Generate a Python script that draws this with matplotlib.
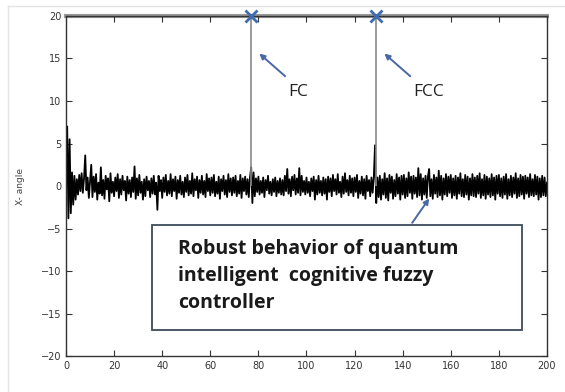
import numpy as np
import matplotlib
matplotlib.use("Agg")
from matplotlib import pyplot as plt
from matplotlib.patches import Rectangle

# angle signal, sampled every 0.5 s from 0 to 200
angle = [
    0.5, 7.0, -3.8, 5.5, -3.2, 1.6, -2.2, 1.2, -1.6, 0.8, -1.0, 1.3, -0.6, 1.5, -0.8, 0.9, 3.6, -0.5, 1.0, -1.4,
    0.6, 2.5, -1.3, 1.1, -0.7, 1.4, -1.6, 0.4, -0.9, 2.2, -1.1, 0.7, -1.5, 1.2, -0.4, 0.9, -1.8, 1.5, -0.8, 0.5,
    -1.2, 1.0, -0.6, 1.4, -1.4, 0.8, -1.0, 1.2, -0.5, 0.6, -1.7, 1.1, -0.9, 0.7, -1.3, 1.0, -0.7, 2.3, -1.5, 0.9,
    -1.1, 1.3, -0.8, 0.5, -1.6, 0.8, -1.2, 1.1, -0.5, 0.6, -1.3, 0.9, -0.9, 1.2, -1.0, 0.4, -2.8, 1.2, -0.6, 0.7,
    -1.4, 1.0, -0.7, 1.3, -1.1, 0.6, -0.9, 1.4, -1.2, 0.8, -0.6, 1.1, -1.5, 0.7, -0.8, 1.2, -1.0, 0.5, -1.3, 1.0,
    -0.7, 1.3, -1.1, 0.6, -0.9, 1.5, -1.2, 0.8, -0.5, 1.1, -1.4, 0.7, -0.8, 1.2, -1.0, 0.6, -1.3, 1.4, -0.6, 0.9,
    -1.1, 1.0, -0.8, 1.3, -1.2, 0.5, -0.9, 1.1, -1.5, 0.8, -0.6, 1.2, -1.0, 0.7, -1.3, 1.4, -0.7, 0.9, -1.1, 1.0,
    -0.8, 1.2, -1.2, 0.6, -0.9, 1.3, -1.4, 0.9, -0.6, 1.1, -1.0, 0.8, -1.3, 1.0, 2.2, -2.0, 1.6, -1.2, 0.9, -0.7,
    1.1, -1.0, 0.6, -0.8, 1.0, -1.3, 0.7, -0.5, 1.2, -0.9, 0.5, -1.1, 0.8, -0.7, 1.0, -1.2, 0.6, -0.8, 0.9, -1.0,
    0.7, -1.1, 1.2, -0.6, 2.0, -0.9, 0.8, -1.2, 1.1, -0.5, 1.3, -1.0, 0.9, -0.8, 2.1, -1.1, 1.2, -0.7, 0.6, -1.0,
    1.0, -0.8, 0.5, -1.2, 0.9, -0.6, 1.1, -1.6, 0.7, -1.0, 1.2, -0.8, 0.6, -1.1, 1.0, -0.9, 0.8, -1.6, 1.1, -0.7,
    0.9, -1.2, 1.3, -0.6, 0.8, -1.0, 1.4, -0.8, 0.5, -1.3, 1.1, -0.9, 1.5, -0.7, 0.7, -1.1, 1.2, -0.8, 0.9, -1.2,
    1.0, -0.7, 1.3, -1.4, 0.6, -0.9, 1.1, -1.1, 0.8, -1.5, 1.2, -0.6, 0.7, -1.2, 1.0, -0.8, 1.1, 4.8, -2.0, 1.0,
    -1.3, 1.2, -1.6, 0.8, -1.0, 1.5, -1.4, 0.9, -1.7, 1.3, -0.8, 1.1, -1.5, 0.7, -1.2, 1.4, -0.9, 1.0, -1.6, 1.2,
    -1.0, 1.3, -1.4, 0.9, -1.2, 1.6, -0.8, 1.1, -1.5, 1.2, -0.9, 1.0, -1.3, 2.1, -1.1, 1.4, -1.6, 0.9, -1.0, 1.2,
    -1.4, 1.1, 2.0, -1.2, 0.8, -1.5, 1.3, -0.9, 1.0, -1.3, 1.8, -1.1, 1.2, -1.6, 0.9, -1.0, 1.4, -1.2, 1.1, -0.8,
    1.3, -1.4, 0.9, -1.1, 1.2, -1.5, 1.0, -0.9, 1.5, -1.2, 0.8, -1.3, 1.3, -1.0, 1.1, -1.6, 0.9, -1.1, 1.4, -1.2,
    1.0, -1.3, 1.2, -0.9, 1.5, -1.4, 0.8, -1.1, 1.3, -1.5, 1.1, -1.0, 0.9, -1.3, 1.4, -1.1, 1.0, -1.6, 1.2, -0.9,
    1.3, -1.2, 0.9, -1.4, 1.1, -1.0, 1.4, -1.5, 0.8, -1.1, 1.2, -1.3, 1.0, -0.9, 1.5, -1.4, 0.9, -1.2, 1.3, -1.0,
    1.1, -1.5, 1.2, -0.9, 1.0, -1.3, 1.4, -1.1, 0.8, -1.2, 1.3, -1.0, 1.1, -1.6, 0.9, -1.3, 1.2, -1.1, 1.0, -1.2,
    0.4,
]
t = np.arange(len(angle)) * 0.5

# saturation events (gray spikes up to the limit)
event_t = [77, 129]
event_labels = ['FC', 'FCC']
limit = 20

box_lines = ['Robust behavior of quantum',
             'intelligent  cognitive fuzzy',
             'controller']

fig = plt.figure(figsize=(5.65, 3.92), dpi=100)
ax = fig.add_axes([0.1168, 0.0918, 0.8513, 0.8674])

# faint screenshot frame
fig.add_artist(plt.Line2D([0.014, 0.014], [0, 0.985], color='#e4e4e4', lw=1))
fig.add_artist(plt.Line2D([0.014, 1], [0.985, 0.985], color='#e4e4e4', lw=1))

ax.plot(t, angle, color='black', lw=1.3)
ax.vlines(event_t, 0, limit, color='#8a8a8a', lw=1.2)
ax.axhline(limit, color='#9a9a9a', lw=3, clip_on=False, zorder=1)
ax.plot(event_t, [limit] * len(event_t), 'x', color='#3d6cb0', ms=9, mew=2, clip_on=False, zorder=5)

arrow = dict(arrowstyle='-|>', color='#4a68a6', lw=1.4, mutation_scale=8)
for et, lab in zip(event_t, event_labels):
    ax.annotate('', xy=(et + 2.5, 15.8), xytext=(et + 15, 12.7), arrowprops=arrow)
    ax.text(et + 15.5, 11.0, lab, ha='left', va='center', fontsize=12.5,
            family='Open Sans', color='#222222')

ax.add_patch(Rectangle((35.8, -16.9), 153.8, 12.3, fill=False, edgecolor='#3e4b5b', lw=1.3, zorder=4))
for i, line in enumerate(box_lines):
    ax.text(46.7, -8.0 - 3.15 * i, line, fontsize=14, fontweight='bold', family='Open Sans',
            color='#1a1a1a', va='baseline', ha='left')
ax.annotate('', xy=(151.7, -1.2), xytext=(143.3, -4.6),
            arrowprops=dict(arrowstyle='-|>', color='#4a68a6', lw=1.4, mutation_scale=8))

ax.set_xlim(0, 200)
ax.set_ylim(-20, 20)
ax.set_xticks(np.arange(0, 201, 20))
ax.set_yticks(np.arange(-20, 21, 5))
ax.tick_params(direction='in', length=4, top=True, right=True, labelsize=7,
               labelcolor='#333333', color='#333333')
for s in ax.spines.values():
    s.set_color('#333333')
    s.set_linewidth(1.0)
ax.set_ylabel('X- angle', fontsize=6.5, color='#444444')
ax.yaxis.set_label_coords(-0.085, 0.5)

fig.savefig('out.png', dpi=100)
